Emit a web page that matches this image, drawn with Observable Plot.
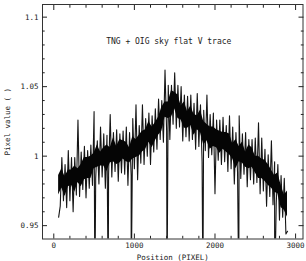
<!DOCTYPE html>
<html><head><meta charset="utf-8">
<script src="https://cdn.jsdelivr.net/npm/d3@7"></script>
<script src="https://cdn.jsdelivr.net/npm/@observablehq/plot@0.6"></script>
<style>body{margin:0;background:#fff}</style>
</head><body><div id="chart"></div>
<script>
const title = "TNG + OIG sky flat V trace";
const xLabel = "Position (PIXEL)";
const yLabel = "Pixel value ( )";

// individual samples (spiky trace), every 20 pixels from 60
const startPosition = 60;
const positionStep = 20;
const pixelValue = [
  0.956, 0.964, 0.999, 0.968, 0.994, 0.963, 1.004, 0.968, 0.999, 0.960,
  0.999, 0.972, 1.026, 0.971, 1.003, 0.976, 1.007, 0.970, 1.004, 0.977,
  1.008, 0.979, 1.032, 0.984, 1.011, 0.980, 1.021, 0.985, 1.016, 0.977,
  1.015, 0.987, 1.030, 0.985, 1.017, 0.989, 1.019, 0.982, 1.016, 0.988,
  1.018, 0.987, 1.021, 0.979, 1.017, 0.986, 1.027, 0.991, 1.037, 0.983,
  1.022, 0.995, 1.037, 0.994, 1.027, 1.000, 1.031, 0.994, 1.029, 1.003,
  1.034, 1.005, 1.041, 1.012, 1.040, 1.010, 1.062, 1.018, 1.051, 1.012,
  1.051, 1.023, 1.060, 1.020, 1.051, 1.021, 1.050, 1.011, 1.044, 1.014,
  1.043, 1.011, 1.044, 1.012, 1.038, 1.005, 1.045, 1.007, 1.037, 0.996,
  1.033, 1.004, 1.044, 0.999, 1.030, 1.001, 1.031, 0.973, 1.026, 0.997,
  1.026, 0.994, 1.028, 0.996, 1.022, 0.989, 1.029, 0.991, 1.021, 0.980,
  1.017, 0.988, 1.029, 0.984, 1.016, 0.987, 1.017, 0.978, 1.012, 0.983,
  1.012, 0.980, 1.013, 0.981, 1.024, 0.973, 1.013, 0.975, 1.005, 0.964,
  1.001, 0.971, 1.011, 0.965, 0.996, 0.966, 0.994, 0.954, 0.986, 0.956,
  0.984, 0.944, 0.946
];

// dense core of the trace, every 40 pixels from 60
const coreStart = 60;
const coreStep = 40;
const coreHigh = [
  0.986, 0.991, 0.985, 0.990, 0.990, 0.993, 0.991, 0.994, 0.999, 0.999,
  1.000, 1.002, 1.008, 1.003, 1.006, 1.008, 1.006, 1.013, 1.007, 1.012,
  1.011, 1.010, 1.006, 1.014, 1.012, 1.015, 1.018, 1.019, 1.025, 1.021,
  1.024, 1.028, 1.035, 1.039, 1.039, 1.047, 1.046, 1.044, 1.036, 1.039,
  1.032, 1.036, 1.030, 1.029, 1.033, 1.025, 1.023, 1.021, 1.021, 1.019,
  1.018, 1.017, 1.017, 1.016, 1.009, 1.012, 1.007, 1.010, 1.003, 1.008,
  1.006, 1.000, 1.000, 0.998, 0.997, 0.994, 0.990, 0.986, 0.988, 0.979,
  0.972, 0.975
];
const coreLow = [
  0.972, 0.977, 0.971, 0.978, 0.979, 0.974, 0.981, 0.978, 0.983, 0.984,
  0.984, 0.991, 0.992, 0.993, 0.993, 0.989, 0.995, 0.996, 0.994, 0.995,
  0.998, 0.996, 0.995, 0.998, 0.999, 1.000, 1.003, 1.005, 1.010, 1.006,
  1.011, 1.015, 1.018, 1.028, 1.027, 1.028, 1.034, 1.027, 1.026, 1.020,
  1.020, 1.022, 1.015, 1.019, 1.017, 1.008, 1.011, 1.005, 1.007, 1.006,
  1.002, 1.005, 1.003, 1.001, 0.998, 0.991, 0.996, 0.995, 0.992, 0.991,
  0.992, 0.988, 0.984, 0.984, 0.982, 0.979, 0.977, 0.974, 0.973, 0.963,
  0.961, 0.956
];

// bad columns dropping far below the plotted range
const badColumns = [510, 675, 960, 1405, 1850, 2295, 2740];
const badValue = 0.9;

const xMajorTicks = [0, 1000, 2000, 3000];
const xMinorTicks = [200, 400, 600, 800, 1200, 1400, 1600, 1800, 2200, 2400, 2600, 2800];
const yMajorTicks = [0.95, 1, 1.05, 1.1];
const yMinorTicks = [0.96, 0.97, 0.98, 0.99, 1.01, 1.02, 1.03, 1.04, 1.06, 1.07, 1.08, 1.09];

const trace = pixelValue
  .map((v, i) => ({position: startPosition + i * positionStep, value: v}))
  .concat(badColumns.map(p => ({position: p, value: badValue})))
  .sort((a, b) => a.position - b.position);
const core = coreHigh.map((h, i) => ({position: coreStart + i * coreStep, high: h, low: coreLow[i]}));

const ink = "#222";
const chart = Plot.plot({
  width: 306, height: 261,
  marginLeft: 42, marginRight: 3.5, marginTop: 4, marginBottom: 22.5,
  x: {domain: [-140, 3092]},
  y: {domain: [0.9404, 1.1091]},
  style: {fontFamily: "DejaVu Sans Mono", fontSize: "7.5px", color: ink, background: "#fff"},
  marks: [
    Plot.line(trace, {x: "position", y: "value", stroke: "#151515", strokeWidth: 1.1, clip: true}),
    Plot.areaY(core, {x: "position", y1: "low", y2: "high", fill: "#050505", clip: true}),
    Plot.frame({stroke: "#333"}),
    Plot.axisX(xMajorTicks, {anchor: "bottom", tickSize: -5, fill: "none", label: null}),
    Plot.axisX(xMinorTicks, {anchor: "bottom", tickSize: -2.7, fill: "none", label: null}),
    Plot.axisX(xMajorTicks, {anchor: "top", tickSize: -5, fill: "none", label: null}),
    Plot.axisX(xMinorTicks, {anchor: "top", tickSize: -2.7, fill: "none", label: null}),
    Plot.axisY(yMajorTicks, {anchor: "left", tickSize: -5, fill: "none", label: null}),
    Plot.axisY(yMinorTicks, {anchor: "left", tickSize: -2.7, fill: "none", label: null}),
    Plot.axisY(yMajorTicks, {anchor: "right", tickSize: -5, fill: "none", label: null}),
    Plot.axisY(yMinorTicks, {anchor: "right", tickSize: -2.7, fill: "none", label: null}),
    Plot.axisX(xMajorTicks, {anchor: "bottom", tickSize: 0, tickPadding: 4, tickFormat: d => String(d),
      label: xLabel, labelAnchor: "center", labelArrow: "none", labelOffset: 20.5}),
    Plot.axisY(yMajorTicks, {anchor: "left", tickSize: 0, tickPadding: 4, tickFormat: d => String(d),
      label: yLabel, labelAnchor: "center", labelArrow: "none", labelOffset: 38}),
    Plot.text([title], {text: d => d, frameAnchor: "top", dx: -4, dy: 34, fontSize: 8, fill: ink})
  ]
});
document.getElementById("chart").appendChild(chart);
</script>
</body></html>
